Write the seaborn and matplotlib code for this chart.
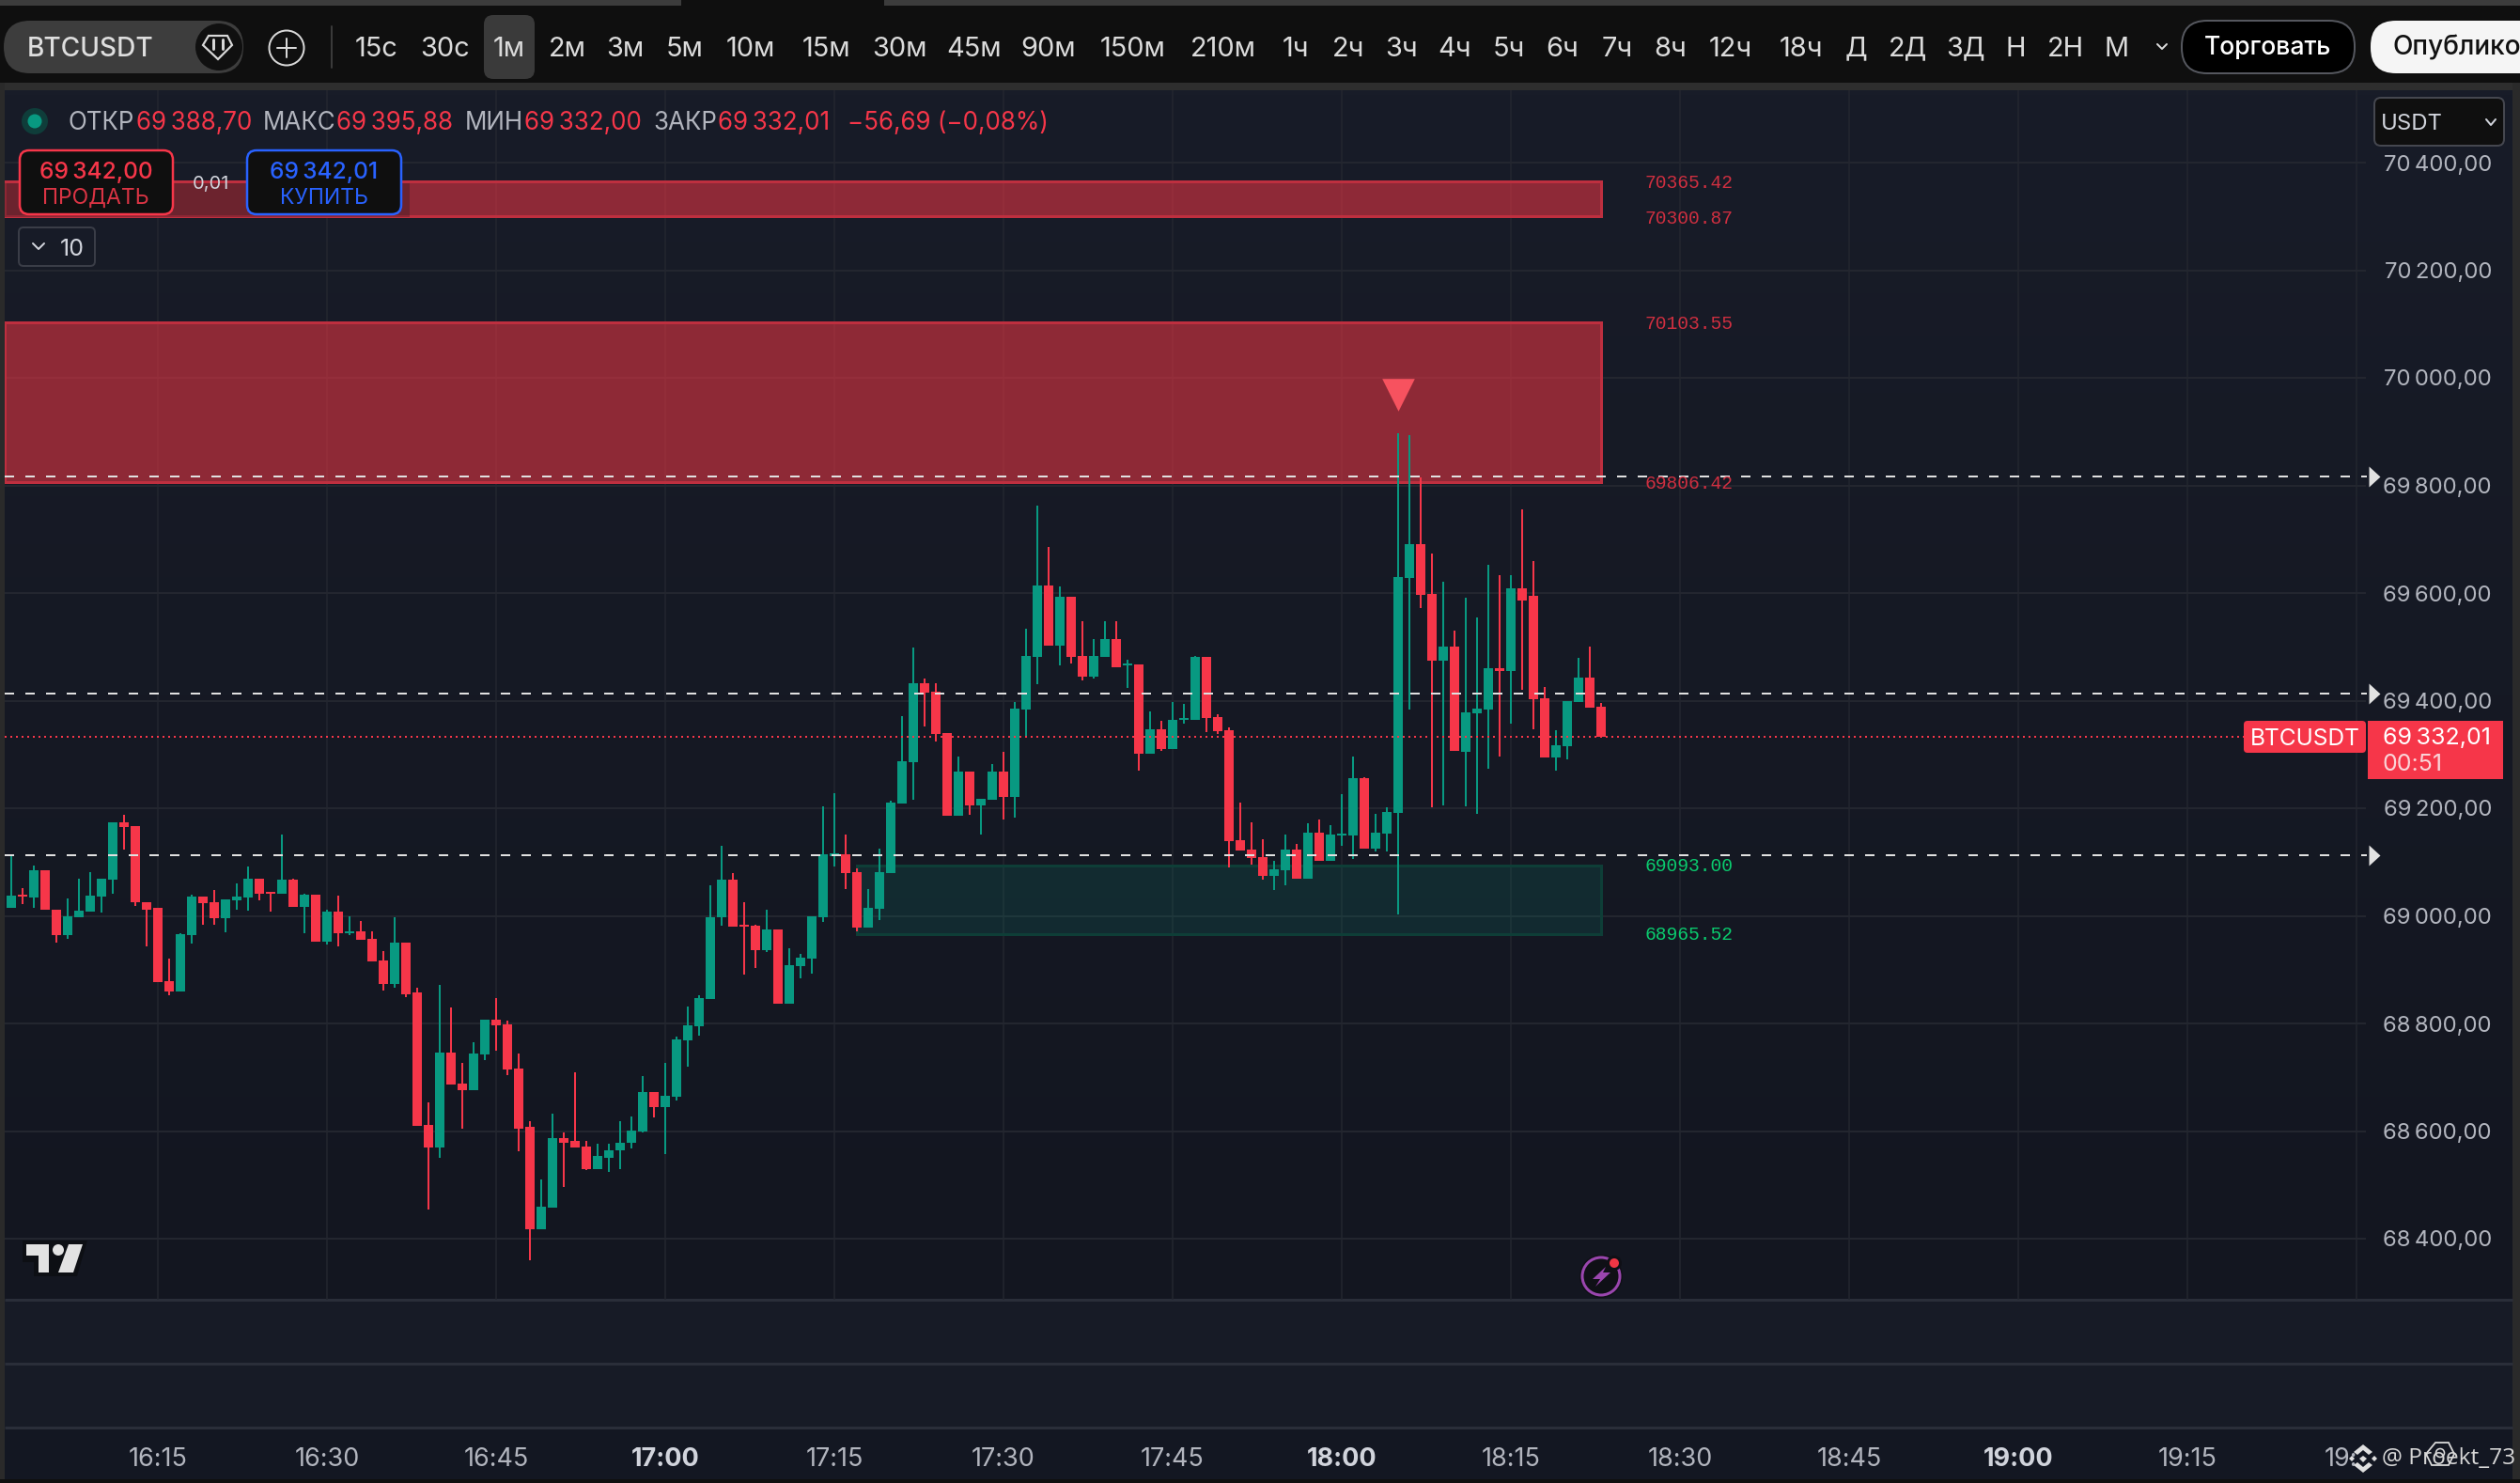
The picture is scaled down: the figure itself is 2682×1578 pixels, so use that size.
import numpy as np
import pandas as pd
import matplotlib
matplotlib.use("Agg")
import matplotlib.pyplot as plt
from matplotlib.patches import Rectangle, FancyBboxPatch, Polygon, Circle
from matplotlib.colors import LinearSegmentedColormap
import seaborn as sns

# ---------------- data (BTCUSDT, 1 minute candles, 16:02 .. 18:23) ----------------
first_minute = 16 * 60 + 2
open_ = [69014,69039,69034,69084,69012,68964,68998,69007,69035,69067,69174,69166,69026,69014,68878,68859,
         68964,69035,69025,68995,69028,69034,69069,69044,69041,69067,69016,69039,68952,69007,68967,68972,
         68957,68917,68873,68950,68857,68611,68569,68745,68688,68676,68742,68807,68798,68716,68607,68417,
         68457,68587,68581,68571,68530,68551,68564,68578,68599,68672,68644,68664,68768,68795,68845,68997,
         69067,68983,68981,68936,68974,68836,68906,68920,68998,69111,69114,69081,68978,69013,69079,69208,
         69285,69432,69416,69339,69186,69268,69205,69216,69268,69221,69384,69481,69614,69502,69593,69483,
         69444,69481,69514,69466,69467,69301,69347,69310,69364,69364,69481,69369,69345,69140,69123,69109,
         69074,69085,69123,69069,69154,69103,69149,69149,69256,69125,69153,69191,69628,69691,69598,69474,
         69500,69305,69376,69384,69460,69455,69609,69595,69404,69294,69315,69398,69442,69388.70]
high = [69115,69052,69093,69084,69012,69032,69069,69081,69069,69174,69188,69166,69026,69014,68920,68967,
        69039,69035,69048,69030,69060,69091,69069,69044,69151,69069,69041,69039,69011,69037,69000,68990,
        68971,68934,68998,68950,68867,68653,68871,68829,68726,68765,68807,68847,68805,68744,68618,68510,
        68632,68597,68710,68581,68576,68576,68618,68627,68702,68672,68726,68775,68831,68853,69057,69130,
        69079,69026,68984,69012,68974,68940,68930,69000,69203,69228,69151,69088,69049,69125,69214,69371,
        69498,69441,69432,69339,69296,69268,69217,69282,69305,69398,69533,69762,69686,69612,69593,69547,
        69514,69547,69547,69476,69467,69380,69362,69398,69394,69483,69481,69375,69350,69210,69174,69142,
        69103,69151,69134,69172,69179,69168,69226,69296,69257,69190,69202,69897,69893,69814,69673,69621,
        69530,69591,69555,69652,69633,69633,69755,69660,69425,69345,69399,69479,69500,69395.88]
low = [69014,69021,69014,69011,68950,68957,68998,69007,69006,69041,69123,69018,68943,68876,68853,68859,
       68948,68983,68983,68969,69012,69009,69028,69007,69041,69016,68967,68952,68946,68944,68964,68955,
       68915,68861,68866,68849,68609,68454,68550,68686,68605,68676,68732,68750,68704,68562,68359,68417,
       68457,68496,68569,68528,68530,68524,68530,68567,68597,68625,68557,68656,68719,68778,68845,68981,
       68980,68890,68903,68932,68836,68836,68884,68892,68988,69091,69049,68971,68978,68992,69079,69208,
       69216,69352,69324,69186,69186,69188,69151,69216,69179,69182,69333,69430,69502,69465,69469,69438,
       69441,69481,69462,69424,69270,69301,69307,69310,69357,69364,69341,69338,69090,69121,69095,69067,
       69048,69057,69069,69069,69103,69103,69131,69105,69125,69119,69119,69002,69384,69572,69202,69205,
       69307,69203,69190,69273,69296,69357,69420,69347,69294,69270,69290,69398,69387,69332.00]
close = [69037,69035,69084,69011,68964,69000,69009,69037,69069,69174,69165,69025,69012,68876,68859,68966,
         69035,69023,68995,69030,69035,69069,69041,69041,69067,69016,69039,68952,69007,68967,68972,68955,
         68915,68873,68950,68855,68609,68569,68745,68686,68676,68744,68807,68796,68714,68605,68417,68459,
         68587,68579,68569,68530,68553,68565,68579,68601,68672,68644,68665,68770,68796,68847,68998,69067,
         68980,68980,68936,68974,68836,68908,68922,69000,69114,69117,69079,68978,69014,69081,69210,69287,
         69432,69415,69338,69186,69268,69205,69217,69268,69221,69385,69483,69614,69502,69593,69481,69444,
         69483,69514,69462,69469,69301,69347,69310,69364,69367,69481,69367,69343,69139,69121,69107,69074,
         69086,69123,69069,69154,69103,69151,69153,69256,69125,69154,69193,69630,69691,69596,69474,69500,
         69307,69378,69385,69460,69455,69609,69586,69402,69294,69317,69399,69442,69387,69332.01]

zone_labels_red = [70365.42, 70300.87, 70103.55, 69806.42]
zone_labels_green = [69093.00, 68965.52]
level_lines = [69817, 69413.6, 69112.7]
last_price = 69332.01
signal_price = 69969
signal_minute = 18 * 60 + 5
green_zone_start = 17 * 60 + 17
zone_end = 18 * 60 + 23

price_ticks = list(range(68400, 70401, 200))
time_ticks = list(range(16 * 60 + 15, 19 * 60 + 31, 15))
timeframes = ["15с","30с","1м","2м","3м","5м","10м","15м","30м","45м","90м","150м","210м","1ч","2ч","3ч",
              "4ч","5ч","6ч","7ч","8ч","12ч","18ч","Д","2Д","3Д","Н","2Н","М"]
legend_parts = [("ОТКР", 73, "lab"), ("69\u2009388,70", 145, "val"), ("МАКС", 280, "lab"), ("69\u2009395,88", 358, "val"),
                ("МИН", 495, "lab"), ("69\u2009332,00", 558, "val"), ("ЗАКР", 695, "lab"), ("69\u2009332,01", 764, "val"),
                ("\u221256,69 (\u22120,08%)", 902, "val")]

# ---------------- style ----------------
W, H = 2682, 1578
UP, DOWN = "#089981", "#F63649"
GRID = "#23262F"
TXT = "#B2B5BE"
sns.set_theme(style="dark", rc={"axes.grid": True})
plt.rcParams["font.family"] = ["Inter", "DejaVu Sans"]
px = 0.72  # points per pixel at dpi 100

fig = plt.figure(figsize=(W / 100, H / 100), dpi=100, facecolor="#0F0F0F")

def full_axes(z):
    a = fig.add_axes([0, 0, 1, 1], zorder=z, facecolor="none")
    a.set_xlim(0, W); a.set_ylim(H, 0); a.axis("off")
    return a

bg = full_axes(0)
top = full_axes(5)

# ---- background panes
bg.add_patch(Rectangle((0, 0), W, 6, fc="#3C3C3C", lw=0))
bg.add_patch(Rectangle((725, 0), 216, 6, fc="#0F0F0F", lw=0))
bg.add_patch(Rectangle((0, 88), W, 8, fc="#2E2E2E", lw=0))
bg.add_patch(Rectangle((0, 88), 5, H - 88, fc="#2A2A2A", lw=0))
bg.add_patch(Rectangle((2674, 88), 8, H - 88, fc="#2A2A2A", lw=0))
cmap = LinearSegmentedColormap.from_list("pane", ["#181C28", "#131620"])
bg.imshow(np.linspace(0, 1, 256).reshape(-1, 1), cmap=cmap, extent=(5, 2674, 1383, 96), aspect="auto", zorder=1)
bg.set_xlim(0, W); bg.set_ylim(H, 0)
bg.add_patch(Rectangle((5, 1383), 2669, 136, fc="#171B26", lw=0, zorder=1))
bg.add_patch(Rectangle((5, 1519), 2669, 55, fc="#131722", lw=0, zorder=1))
bg.add_patch(Rectangle((0, 1574), W, 4, fc="#0F0F0F", lw=0, zorder=1))
for y in (1383, 1451, 1519):
    bg.plot([5, 2674], [y, y], color="#2A2E39", lw=3 * px, zorder=2, solid_capstyle="butt")

# ---- main axes: 12 px per minute, 0.5725 px per price unit
L, R, T, B = 5, 2518, 96, 1383
ax = fig.add_axes([L / W, 1 - B / H, (R - L) / W, (B - T) / H], zorder=1, facecolor="none")

df = pd.DataFrame({"open": open_, "high": high, "low": low, "close": close})
df["minute"] = first_minute + df.index
df["bottom"] = df[["open", "close"]].min(axis=1)
df["height"] = (df["open"] - df["close"]).abs()
df["dir"] = np.where(df["close"] >= df["open"], "up", "down")

# bodies are drawn one direction at a time so that the baseline follows each row
for d, col in (("up", UP), ("down", DOWN)):
    sub = df[df["dir"] == d]
    sns.barplot(data=sub, x="minute", y="height", bottom=sub["bottom"].to_numpy(), native_scale=True,
                color=col, saturation=1, width=10 / 12,
                errorbar=None, linewidth=0, zorder=3, ax=ax, legend=False)
    ax.vlines(sub["minute"], sub["low"], sub["high"], color=col, lw=2 * px, zorder=2.5)

# axis limits
xmin = 1020 + (L - 708) / 12
xmax = 1020 + (R - 708) / 12
ymax = 69200 + (860 - T) / 0.5725
ymin = 69200 - (B - 860) / 0.5725
ax.set_xlim(xmin, xmax)
ax.set_ylim(ymin, ymax)
ax.set_xlabel(""); ax.set_ylabel("")

# zones
def zone(x0, x1, y0, y1, fc, ec):
    ax.add_patch(Rectangle((x0, y0), x1 - x0, y1 - y0, fc=fc, ec="none", zorder=1.5))
    ax.add_patch(Rectangle((x0, y0), x1 - x0, y1 - y0, fc="none", ec=ec, lw=3 * px, zorder=1.6))

zone(xmin, zone_end, zone_labels_red[1], zone_labels_red[0], (0.95, 0.21, 0.27, 0.55), "#BE2F3F")
zone(xmin, zone_end, zone_labels_red[3], zone_labels_red[2], (0.95, 0.21, 0.27, 0.55), "#BE2F3F")
zone(green_zone_start, zone_end, zone_labels_green[1], zone_labels_green[0], (0.03, 0.60, 0.51, 0.15), "#0E3E37")

# level lines and last price
arrow = [(-6 / 11, -1), (6 / 11, 0), (-6 / 11, 1), (-6 / 11, -1)]
for lv in level_lines:
    ax.plot([xmin, xmax + 0.1], [lv, lv], color="#E0E0E0", lw=2 * px, zorder=4,
            linestyle=(0, (5, 6)), dash_capstyle="butt", clip_on=False)
    ax.plot([xmax + 0.75], [lv], marker=arrow, ms=22 * px, mfc="#E2E2E2", mec="none", clip_on=False, zorder=4)
ax.plot([xmin, xmax], [last_price, last_price], color=DOWN, lw=2 * px, linestyle=(0, (1, 2)),
        dash_capstyle="butt", zorder=4)
ax.scatter([signal_minute], [signal_price], marker="v", s=620, color="#F7525F", linewidths=0, zorder=4)

# axes
ax.set_yticks(price_ticks)
ax.set_yticklabels([f"{p // 1000}\u2009{p % 1000:03d},00" for p in price_ticks])
ax.yaxis.tick_right()
ax.set_xticks(time_ticks)
ax.set_xticklabels([f"{t // 60}:{t % 60:02d}" for t in time_ticks])
ax.tick_params(axis="y", length=0, pad=(2652 - R) * px, labelsize=24 * px, colors=TXT)
ax.tick_params(axis="x", length=0, pad=(1540 - B) * px, labelsize=27 * px, colors=TXT)
for lab in ax.get_yticklabels():
    lab.set_ha("right")
for lab, t in zip(ax.get_xticklabels(), time_ticks):
    if t % 60 == 0:
        lab.set_fontweight("bold")
        lab.set_color("#D1D4DC")
ax.grid(True, color=GRID, lw=2 * px, zorder=0.5)
ax.grid(True, axis="x", color=GRID, lw=1.5 * px)
ax.set_axisbelow(True)
for s in ax.spines.values():
    s.set_visible(False)

# ---- overlay: zone labels
mono = "Liberation Mono"
for v, y in zip(zone_labels_red + zone_labels_green, (194, 232, 344, 514, 921, 994)):
    c = "#CF2F40" if v in zone_labels_red else "#0ACB6E"
    top.text(1751, y, f"{v:.2f}", color=c, family=mono, fontsize=19.7 * px, va="center", ha="left")

def pill(a, x0, y0, x1, y1, r, fc, ec="none", lw=0, z=3):
    a.add_patch(FancyBboxPatch((x0 + r, y0 + r), x1 - x0 - 2 * r, y1 - y0 - 2 * r,
                               boxstyle=f"round,pad={r},rounding_size={r}", fc=fc, ec=ec, lw=lw, zorder=z))

def label(x, y, s, color=TXT, size=24, ha="left", weight="normal", z=6, **kw):
    top.text(x, y + 2, s, color=color, fontsize=size * px, ha=ha, va="center", fontweight=weight, zorder=z, **kw)

# price tags
pill(top, 2388, 767, 2518, 801, 4, DOWN)
top.add_patch(Rectangle((2520, 767), 144, 62, fc=DOWN, lw=0, zorder=3))
label(2453, 784, "BTCUSDT", "#FFFFFF", 24.5, ha="center")
label(2536, 783, "69\u2009332,01", "#FFFFFF", 25)
label(2536, 811, "00:51", "#FAD4D8", 25)

# legend row and trading buttons
top.add_patch(Circle((37, 129), 14, fc="#0F3D3A", lw=0))
top.add_patch(Circle((37, 129), 7.5, fc=UP, lw=0))
for s, x, kind in legend_parts:
    label(x, 129, s, TXT if kind == "lab" else DOWN, 26)
top.add_patch(Rectangle((5, 195), 431, 36, fc=(0.08, 0.08, 0.1, 0.28), lw=0, zorder=2))
pill(top, 21, 160, 184, 228, 10, "#0F0F0F", DOWN, 2.5 * px)
pill(top, 263, 160, 427, 228, 10, "#0F0F0F", "#2962FF", 2.5 * px)
label(102, 181, "69\u2009342,00", DOWN, 24.5, ha="center", weight="medium")
label(102, 209, "ПРОДАТЬ", "#DB3444", 23, ha="center")
label(345, 181, "69\u2009342,01", "#2962FF", 24.5, ha="center", weight="medium")
label(345, 209, "КУПИТЬ", "#2962FF", 23, ha="center")
label(224, 194, "0,01", "#D1D4DC", 20, ha="center")
pill(top, 20, 242, 101, 283, 5, "none", "#3A3D47", 2 * px)
top.plot([35, 41, 47], [259, 265, 259], color="#D1D4DC", lw=2 * px, zorder=6)
label(77, 263, "10", "#D1D4DC", 25, ha="center")

# currency box
pill(top, 2527, 104, 2665, 155, 7, "#0F0F0F", "#45474F", 2 * px)
label(2534, 130, "USDT", "#D1D4DC", 24)
top.plot([2646, 2651, 2656], [127, 133, 127], color="#D1D4DC", lw=2 * px, zorder=6)

# toolbar
pill(top, 4, 22, 259, 78, 28, "#3D3D3D")
label(29, 50, "BTCUSDT", "#DEDEDE", 28, weight="medium")
top.add_patch(Circle((233, 50), 25, fc="#101010", lw=0, zorder=4))
top.add_patch(Polygon([(222, 38), (242, 38), (247, 48), (232, 63), (216, 48)], closed=True, fc="none",
                      ec="#D8D8D8", lw=2.2 * px, zorder=5))
for x in (227, 237):
    top.plot([x, x], [42, 52], color="#D8D8D8", lw=3 * px, zorder=5)
top.add_patch(Circle((305, 51), 18.5, fc="none", ec="#D8D8D8", lw=2 * px, zorder=5))
top.plot([295, 315], [51, 51], color="#D8D8D8", lw=2 * px, zorder=5)
top.plot([305, 305], [41, 61], color="#D8D8D8", lw=2 * px, zorder=5)
top.plot([353, 353], [28, 72], color="#3A3A3A", lw=2 * px, zorder=5)
pill(top, 515, 16, 569, 84, 10, "#3A3A3A")
tf_x = [234, 277, 317, 353, 389, 426, 467, 514, 560, 606, 652, 705, 761, 806, 839, 872, 905, 939, 972, 1006, 1039,
        1077, 1121, 1155, 1187, 1223, 1254, 1285, 1317]
for s, x in zip(timeframes, tf_x):
    label(x * 1.7105, 50, s, "#DBDBDB", 29, ha="center")
top.plot([2296, 2301, 2306], [47, 52, 47], color="#DBDBDB", lw=2 * px, zorder=6)
pill(top, 2322, 22, 2506, 78, 27, "#000000", "#55575E", 2 * px)
label(2414, 49, "Торговать", "#FFFFFF", 26.5, ha="center", weight="medium")
pill(top, 2523, 22, 2760, 78, 27, "#F5F5F5")
label(2547, 49, "Опублико", "#111111", 28, weight="medium", clip_on=True)

# TradingView logo
top.add_patch(Polygon([(24, 1320), (93, 1320), (82, 1358), (36, 1358), (36, 1343), (24, 1343)], closed=True,
                      fc="#0D0F14", lw=0, zorder=3))
top.add_patch(Polygon([(28, 1324), (52, 1324), (52, 1354), (41, 1354), (41, 1336), (28, 1336)], closed=True,
                      fc="#E2E2E2", lw=0, zorder=4))
top.add_patch(Circle((62, 1330), 6, fc="#E2E2E2", lw=0, zorder=4))
top.add_patch(Polygon([(73, 1324), (88, 1324), (78, 1354), (62, 1354)], closed=True, fc="#E2E2E2", lw=0, zorder=4))

# lightning icon
top.add_patch(Circle((1704, 1358), 23, fc="#0F1016", lw=0, zorder=3))
top.add_patch(Circle((1704, 1358), 20, fc="none", ec="#9A46AE", lw=3 * px, zorder=4))
top.add_patch(Polygon([(1709, 1348), (1695, 1361), (1703, 1361), (1698, 1369), (1714, 1354), (1706, 1354)],
                      closed=True, fc="#9A46AE", lw=0, zorder=4))
top.add_patch(Circle((1718, 1344), 8, fc="#0F1016", lw=0, zorder=4))
top.add_patch(Circle((1718, 1344), 5, fc="#F23645", lw=0, zorder=5))

# watermark: its backing hides the end of the last time label, as in the screenshot
top.add_patch(Rectangle((2508, 1530), 166, 42, fc="#131722", lw=0, zorder=5))
for pts in ([(2505, 1545), (2515, 1537), (2525, 1545), (2521, 1548), (2515, 1543), (2509, 1548)],
            [(2505, 1559), (2515, 1567), (2525, 1559), (2521, 1556), (2515, 1561), (2509, 1556)],
            [(2515, 1549), (2519, 1552), (2515, 1556), (2511, 1552)],
            [(2500, 1552), (2503, 1549), (2506, 1552), (2503, 1555)],
            [(2524, 1552), (2527, 1549), (2530, 1552), (2527, 1555)]):
    top.add_patch(Polygon(pts, closed=True, fc="#E0E0E0", lw=0, zorder=7))
top.add_patch(Polygon([(2592, 1535), (2606, 1535), (2612, 1547), (2606, 1559), (2588, 1559), (2582, 1547)],
                      closed=True, fc="none", ec="#DADADA", lw=1.8 * px, zorder=7))
top.add_patch(Circle((2597, 1546), 4.5, fc="none", ec="#DADADA", lw=1.6 * px, zorder=7))
top.text(2535, 1552, "@ Proekt_73", color="#D6D6D6", family="Open Sans", fontsize=24.5 * px, va="center", ha="left", zorder=6)

fig.savefig("out.png", dpi=100, facecolor=fig.get_facecolor())
